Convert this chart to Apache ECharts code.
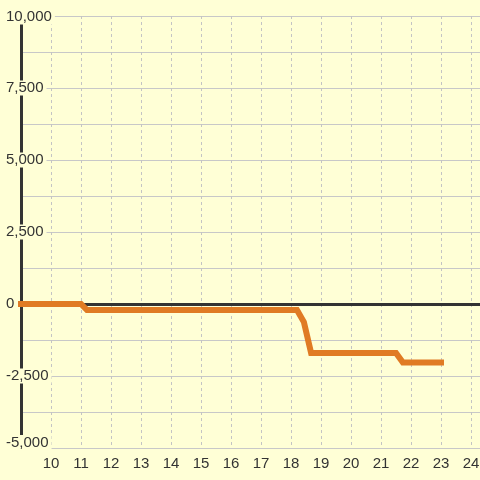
<!DOCTYPE html>
<html>
<head>
<meta charset="utf-8">
<script src="https://cdn.jsdelivr.net/npm/echarts@6/dist/echarts.min.js"></script>
<style>
  html, body { margin: 0; padding: 0; background: #ffffd6; }
  #chart { width: 480px; height: 480px; }
</style>
</head>
<body>
<div id="chart"></div>
<script>
// x positions and values of the orange line
var xValues = [9, 11, 11.2, 18.2, 18.43, 18.67, 21.5, 21.73, 23];
var yValues = [0, 0, -210, -210, -625, -1700, -1700, -2030, -2030];

var bg = '#ffffd6';

function thousands(v) {
    var s = String(Math.abs(v)).replace(/\B(?=(\d{3})+(?!\d))/g, ',');
    return (v < 0 ? '-' : '') + s;
}

var points = [];
for (var i = 0; i < xValues.length; i++) {
    points.push([xValues[i], yValues[i]]);
}

function labelStyle(pad) {
    return {
        color: '#333',
        fontSize: 15,
        fontFamily: 'Liberation Sans',
        lineHeight: 14,
        backgroundColor: bg,
        padding: pad
    };
}

var myChart = echarts.init(document.getElementById('chart'));

var option = {
    backgroundColor: bg,
    animation: false,
    grid: { left: 21, right: 0, top: 16, bottom: 32, outerBoundsMode: 'none' },
    xAxis: {
        type: 'value',
        min: 9,
        max: 24.3,
        interval: 1,
        axisLine: { show: false },
        axisTick: { show: false },
        axisLabel: {
            color: '#333',
            fontSize: 15,
            fontFamily: 'Liberation Sans',
            margin: 8,
            hideOverlap: false,
            formatter: function (v) {
                return (v % 1 === 0 && v > 9) ? String(v) : '';
            }
        },
        splitLine: {
            show: true,
            lineStyle: { color: '#c4c4c4', width: 1, type: [3, 3] }
        }
    },
    yAxis: {
        type: 'value',
        min: -5000,
        max: 10000,
        interval: 2500,
        axisLine: { show: true, lineStyle: { color: '#333', width: 3 } },
        axisTick: { show: false },
        axisLabel: {
            color: '#333',
            fontSize: 15,
            fontFamily: 'Liberation Sans',
            align: 'left',
            margin: 15,
            formatter: function (v) {
                var key = v === 10000 ? 't' : (v === -5000 ? 'b' : 'n');
                return '{' + key + '|' + thousands(v) + '}';
            },
            rich: {
                n: labelStyle([0, 3, 0, 0]),
                t: labelStyle([2, 3, 0, 0]),
                b: labelStyle([0, 3, 11, 0])
            }
        },
        splitLine: { show: true, lineStyle: { color: '#c8c8c8', width: 1 } },
        minorTick: { show: false, splitNumber: 2 },
        minorSplitLine: { show: true, lineStyle: { color: '#c8c8c8', width: 1 } }
    },
    series: [{
        type: 'line',
        data: points,
        symbol: 'none',
        z: 3,
        lineStyle: { color: '#e07b24', width: 6, cap: 'square', join: 'miter' },
        markLine: {
            z: 1,
            silent: true,
            symbol: 'none',
            label: { show: false },
            lineStyle: { color: '#333', width: 3, type: 'solid' },
            data: [{ yAxis: 0 }]
        }
    }]
};

myChart.setOption(option);
</script>
</body>
</html>
